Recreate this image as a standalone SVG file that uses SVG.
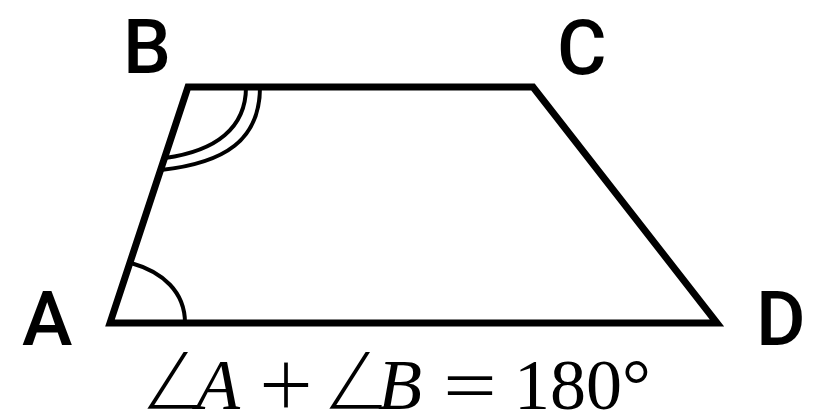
<svg xmlns="http://www.w3.org/2000/svg" width="823" height="420" viewBox="0 0 823 420">
<style>
.lbl{font-family:Roboto,"Noto Sans",sans-serif;font-weight:500;font-size:76px;fill:#000}
.m{font-family:"Liberation Serif","DejaVu Serif",serif;font-size:72px;fill:#000}
.mi{font-style:italic}
.op{font-family:"DejaVu Serif",serif;font-size:74px;fill:#000;stroke:#fff;stroke-width:2}
.ang{font-family:"DejaVu Sans",sans-serif;font-size:84px;fill:#000;stroke:#fff;stroke-width:4.6}
.edge{fill:none;stroke:#000;stroke-width:7;stroke-linejoin:miter;stroke-miterlimit:10}
.arc{fill:none;stroke:#000;stroke-width:4}
</style>
<rect width="823" height="420" fill="#fff"/>
<g id="shape">
<path class="edge" d="M110,323 L188,87 L533,87 L717,323 Z"/>
</g>
<g id="angles">
<path class="arc" d="M131,263 C163,272 185,292 185,323"/>
<path class="arc" d="M246,87 C246,128 216,151 165,158"/>
<path class="arc" d="M260,87 C260,140 225,163 161,170"/>
</g>
<g id="node-A"><text class="lbl" x="22" y="345">A</text></g>
<g id="node-B"><text class="lbl" x="123" y="73">B</text></g>
<g id="node-C"><text class="lbl" x="557" y="74">C</text></g>
<g id="node-D"><text class="lbl" x="756" y="345">D</text></g>
<g id="formula">
<text class="ang" x="136" y="411">∠</text>
<text class="m mi" x="196" y="409">A</text>
<text class="op" x="255" y="409">+</text>
<text class="ang" x="318" y="411">∠</text>
<text class="m mi" x="378" y="409">B</text>
<text class="op" x="439" y="409">=</text>
<text class="m" x="514" y="409">180°</text>
</g>
</svg>
